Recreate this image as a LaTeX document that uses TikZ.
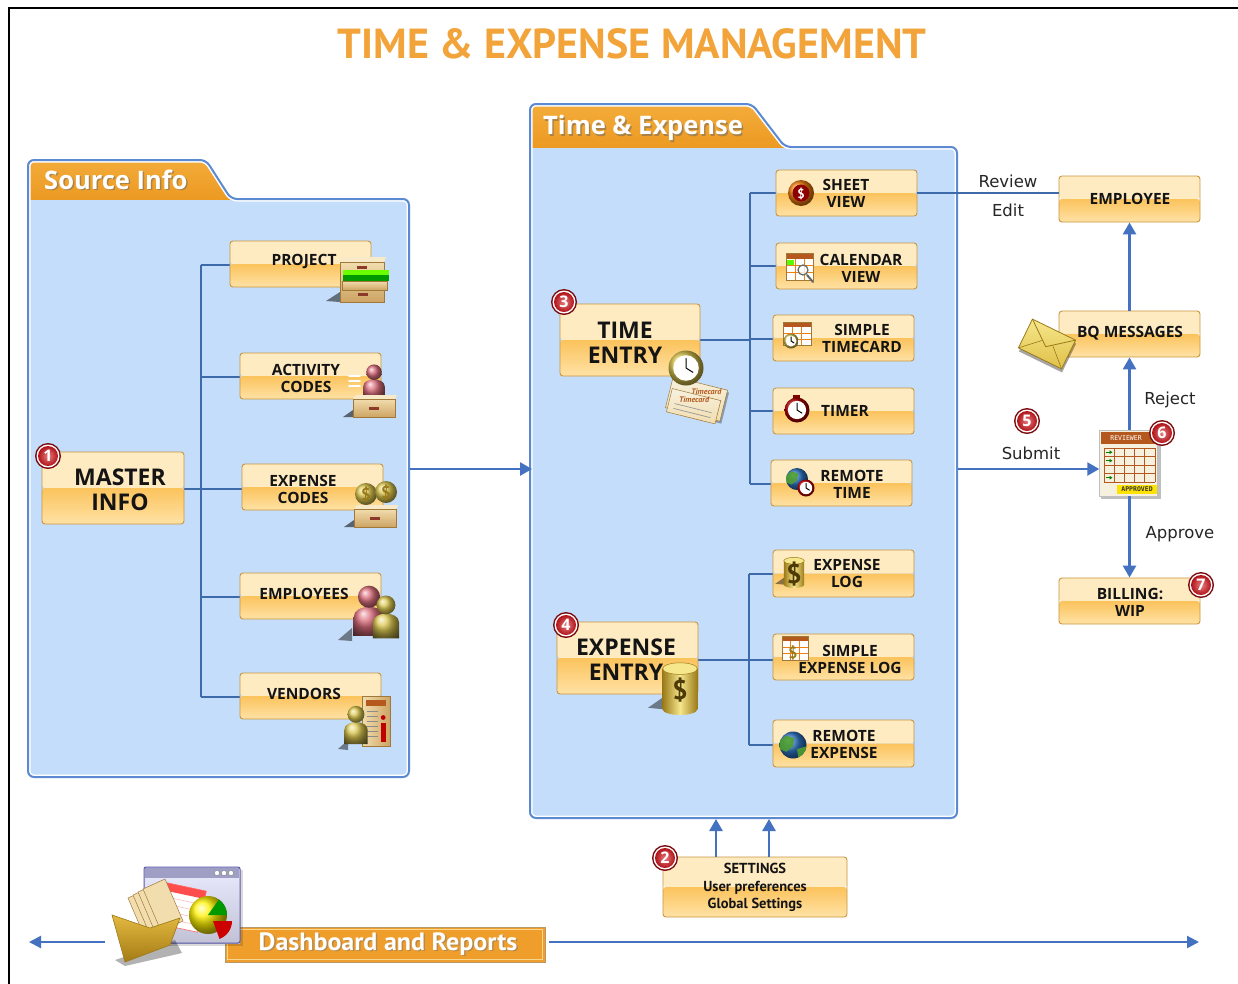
\documentclass[tikz,border=0pt]{standalone}
\usepackage{graphicx}
\usepackage{fontspec}
\setmainfont{PT Sans}
\newfontfamily\boxfont{Open Sans}
\newfontfamily\notefont{DejaVu Sans}
\newfontfamily\tinyfont{DejaVu Sans Mono}
\usetikzlibrary{arrows.meta}

\definecolor{panelfill}{HTML}{C4DDFA}
\definecolor{panelline}{HTML}{5B8AD2}
\definecolor{tabtop}{HTML}{F5B040}
\definecolor{tabbot}{HTML}{EC9A22}
\definecolor{treeline}{HTML}{3D6AA8}
\definecolor{flow}{HTML}{4472C0}
\definecolor{boxedge}{HTML}{C9953F}
\definecolor{boxtop}{HTML}{FFEBC2}
\definecolor{boxmid}{HTML}{FBC35C}
\definecolor{boxbot}{HTML}{FFE2A6}
\definecolor{titleor}{HTML}{F2A43A}
\definecolor{badgered}{HTML}{D0161C}
\definecolor{badgedark}{HTML}{7A0A0C}
\definecolor{pinkc}{HTML}{DC6E7C}
\definecolor{yellc}{HTML}{DCC850}
\definecolor{drawlight}{HTML}{F2DDAE}
\definecolor{drawdark}{HTML}{CDA464}
\definecolor{drawtop}{HTML}{F8EAC8}
\definecolor{drawedge}{HTML}{A07838}
\definecolor{handlec}{HTML}{8E3A2A}
\definecolor{golddark}{HTML}{9A7A18}
\definecolor{goldlight}{HTML}{F6E68C}
\definecolor{golddeep}{HTML}{4E3A06}
\definecolor{globeblue}{HTML}{2F74C4}
\definecolor{globegreen}{HTML}{4E9E30}
\definecolor{cardbrown}{HTML}{B4581E}
\definecolor{cardpaper}{HTML}{F6F1DE}
\definecolor{dashfill}{HTML}{EF9E2C}
\definecolor{dashedge}{HTML}{B89A6A}
\definecolor{dashinner}{HTML}{F7D68E}

\tikzset{
  obox/.style={rounded corners=3pt, draw=boxedge, line width=0.9pt,
    minimum width=141pt, minimum height=46pt, inner sep=0pt,
    path picture={
      \fill[boxtop] (path picture bounding box.north west) rectangle (path picture bounding box.east);
      \shade[top color=boxmid, bottom color=boxbot] (path picture bounding box.west) rectangle (path picture bounding box.south east);
    }},
  bigbox/.style={obox, minimum width=142pt, minimum height=72pt},
  blbl/.style={font=\boxfont\bfseries\fontsize{15.5}{17}\selectfont, align=center, text=black!92, inner sep=0pt},
  biglbl/.style={font=\boxfont\bfseries\fontsize{23}{25}\selectfont, align=center, text=black!92, inner sep=0pt},
  tablbl/.style={font=\boxfont\bfseries\fontsize{25.5}{26}\selectfont, text=white, inner sep=0pt, anchor=base west},
  tabshadow/.style={tablbl, text=black!60, opacity=.5},
  tree/.style={draw=treeline, line width=1.1pt},
  flowarrow/.style={draw=flow, line width=2.6pt, -{Triangle[width=13pt,length=12pt]}},
  note/.style={font=\notefont\fontsize{16.5}{17}\selectfont, text=black!85, inner sep=0pt},
  pics/person/.style={code={
    \shade[ball color=#1] (-9,14) -- (-9,3) .. controls (-9,-5) and (9,-5) .. (9,3) -- (9,14) -- cycle;
    \shade[ball color=#1] (0,-9) circle (6.5);
  }},
  pics/drawer/.style={code={
    \fill[black, opacity=.55] (-31,10) -- (-21,3) -- (-21,10) -- cycle;
    \fill[drawtop] (-21,-8) -- (-18,-12) -- (23,-12) -- (21,-8) -- cycle;
    \shade[top color=drawlight, bottom color=drawdark] (-21,-8) rectangle (21,10);
    \draw[drawedge, line width=.6pt] (-21,-8) rectangle (21,10);
    \fill[handlec] (-5,0) rectangle (5,2.5);
  }},
  pics/dollarcan/.style={code={
    \fill[black, opacity=.45] (-22,15) -- (-12,8) -- (-12,16) -- cycle;
    \shade[left color=golddark, right color=golddark, middle color=goldlight] (-12,-12) rectangle (12,16);
    \shade[left color=golddark, right color=golddark, middle color=goldlight] (0,16) ellipse (12 and 4);
    \fill[goldlight] (0,-12) ellipse (12 and 4);
    \draw[golddark, line width=.5pt] (0,-12) ellipse (12 and 4);
    \node[font=\bfseries\fontsize{27}{27}\selectfont, text=golddeep, inner sep=0pt] (-sign) at (0,3) {\$};
  }},
  pics/globe/.style={code={
    \shade[ball color=globeblue] (0,0) circle (10);
    \begin{scope}
      \clip (0,0) circle (10);
      \fill[globegreen, opacity=.9] (-10,-3) -- (-5,-7) -- (1,-5) -- (0,1) -- (-5,5) -- (-10,3) -- cycle;
      \fill[globegreen, opacity=.9] (3,3) -- (10,1) -- (9,8) -- (4,10) -- cycle;
    \end{scope}
  }},
  pics/clockface/.style={code={
    \shade[ball color=#1] (0,0) circle (10);
    \fill[white] (0,0) circle (7.3);
    \draw[black, line width=1pt, line cap=round] (0,0) -- (0,-5.5) (0,0) -- (4,2.5);
  }},
}

\newcommand{\numbadge}[3]{%
  \node[circle, fill=badgedark, minimum size=26pt, inner sep=0pt] (#1) at (#2) {};
  \fill[white] (#1.center) circle (11.5pt);
  \shade[inner color=badgered!55!white, outer color=badgered!85!black] (#1.center) circle (10pt);
  \node[font=\boxfont\bfseries\fontsize{16}{16}\selectfont, text=white, inner sep=0pt] (#1-num) at (#1.center) {#3};
}

\begin{document}
\begin{tikzpicture}[x=1pt,y=-1pt]
\useasboundingbox (0,0) rectangle (1238,983);
\fill[white] (0,0) rectangle (1238,983);
\draw[black, line width=1.8pt] (9,984) -- (9,8) -- (1239,8);

% ---------- title ----------
\node[font=\bfseries\fontsize{42}{42}\selectfont, text=titleor] (title) at (632,44) {TIME \& EXPENSE MANAGEMENT};

% ---------- Source Info panel ----------
\fill[panelfill, rounded corners=6pt] (28,777) -- (28,160) -- (206,160) -- (231,199) -- (409,199) -- (409,777) -- cycle;
\begin{scope}
  \clip[rounded corners=6pt] (28,777) -- (28,160) -- (206,160) -- (231,199) -- (409,199) -- (409,777) -- cycle;
  \shade[top color=tabtop, bottom color=tabbot] (20,150) rectangle (250,199);
\end{scope}
\draw[white, line width=5pt, rounded corners=6pt] (28,777) -- (28,160) -- (206,160) -- (231,199) -- (409,199) -- (409,777) -- cycle;
\draw[panelline, line width=2pt, rounded corners=6pt] (28,777) -- (28,160) -- (206,160) -- (231,199) -- (409,199) -- (409,777) -- cycle;
\node[tabshadow] (srcTabS) at (45.5,190.5) {Source Info};
\node[tablbl] (srcTab) at (44,189) {Source Info};

% ---------- Time & Expense panel ----------
\fill[panelfill, rounded corners=6pt] (530,818) -- (530,104) -- (752,104) -- (785,147) -- (957,147) -- (957,818) -- cycle;
\begin{scope}
  \clip[rounded corners=6pt] (530,818) -- (530,104) -- (752,104) -- (785,147) -- (957,147) -- (957,818) -- cycle;
  \shade[top color=tabtop, bottom color=tabbot] (520,95) rectangle (800,147);
\end{scope}
\draw[white, line width=5pt, rounded corners=6pt] (530,818) -- (530,104) -- (752,104) -- (785,147) -- (957,147) -- (957,818) -- cycle;
\draw[panelline, line width=2pt, rounded corners=6pt] (530,818) -- (530,104) -- (752,104) -- (785,147) -- (957,147) -- (957,818) -- cycle;
\node[tabshadow] (teTabS) at (544.5,136) {Time \& Expense};
\node[tablbl] (teTab) at (543,134.5) {Time \& Expense};

% ---------- source tree ----------
\coordinate (srcBus) at (201,489);
\draw[tree] (201,265) -- (201,697);
\draw[tree] (184,489) -- (srcBus);
\draw[tree] (201,265) -- (230,265);
\draw[tree] (201,377) -- (240,377);
\draw[tree] (201,489) -- (242,489);
\draw[tree] (201,597) -- (240,597);
\draw[tree] (201,697) -- (240,697);

% ---------- time tree ----------
\draw[tree] (750,193) -- (750,484);
\draw[tree] (700,340) -- (750,340);
\draw[tree] (750,193) -- (776,193);
\draw[tree] (750,266) -- (776,266);
\draw[tree] (750,339) -- (773,339);
\draw[tree] (750,411) -- (773,411);
\draw[tree] (750,484) -- (771,484);

% ---------- expense tree ----------
\draw[tree] (749,574) -- (749,745);
\draw[tree] (698,660) -- (749,660);
\draw[tree] (749,574) -- (773,574);
\draw[tree] (749,660) -- (773,660);
\draw[tree] (749,745) -- (773,745);

% ---------- source boxes ----------
\node[bigbox] (master) at (113,488) {};
\node[biglbl] (masterT) at (120,490) {MASTER\\INFO};
\node[obox] (project) at (300.5,264) {};
\node[blbl] (projectT) at (304,262) {PROJECT};
\node[obox] (activity) at (310.5,376) {};
\node[blbl] (activityT) at (306,378) {ACTIVITY\\CODES};
\node[obox] (expcodes) at (312.5,487) {};
\node[blbl] (expcodesT) at (303,489) {EXPENSE\\CODES};
\node[obox] (employees) at (310.5,596) {};
\node[blbl] (employeesT) at (304,594) {EMPLOYEES};
\node[obox] (vendors) at (310.5,696) {};
\node[blbl] (vendorsT) at (304,694) {VENDORS};

% ---------- time & expense boxes ----------
\node[bigbox, minimum width=140pt] (timeentry) at (630,340) {};
\node[biglbl] (timeentryT) at (625,343) {TIME\\ENTRY};
\node[obox] (sheet) at (846.5,193) {};
\node[blbl] (sheetT) at (846,193.5) {SHEET\\VIEW};
\node[obox] (calendar) at (846.5,266) {};
\node[blbl] (calendarT) at (861,268) {CALENDAR\\VIEW};
\node[obox] (timecard) at (843.5,338) {};
\node[blbl] (timecardT) at (862,338.5) {SIMPLE\\TIMECARD};
\node[obox] (timer) at (843.5,411) {};
\node[blbl] (timerT) at (845,411) {TIMER};
\node[obox] (remotetime) at (841.5,483) {};
\node[blbl] (remotetimeT) at (852,484) {REMOTE\\TIME};
\node[bigbox, minimum width=141pt] (expentry) at (627.5,658) {};
\node[biglbl] (expentryT) at (626,660) {EXPENSE\\ENTRY};
\node[obox, minimum height=47pt] (explog) at (843.5,573.5) {};
\node[blbl] (explogT) at (847,573.5) {EXPENSE\\LOG};
\node[obox] (simpexp) at (843.5,657) {};
\node[blbl] (simpexpT) at (850,659) {SIMPLE\\EXPENSE LOG};
\node[obox, minimum height=47pt] (remoteexp) at (843.5,743.5) {};
\node[blbl] (remoteexpT) at (844,744) {REMOTE\\EXPENSE};

% ---------- right column ----------
\node[obox] (employee) at (1129.5,199) {};
\node[blbl] (employeeT) at (1130,199) {EMPLOYEE};
\node[obox] (bq) at (1129.5,334) {};
\node[blbl] (bqT) at (1130,333.5) {BQ MESSAGES};
\node[obox] (billing) at (1129.5,601) {};
\node[blbl] (billingT) at (1130,602) {BILLING:\\WIP};

% reviewer sheet
\fill[black, opacity=.25] (1101,432) rectangle (1161,499);
\node[fill=cardpaper, draw=black!25, line width=.5pt, minimum width=58pt, minimum height=66pt, inner sep=0pt] (reviewer) at (1128.5,463) {};
\fill[cardbrown] (1101,432) rectangle (1156,444);
\node[font=\tinyfont\fontsize{6.5}{6.5}\selectfont, text=white, inner sep=0pt] (reviewerHead) at (1126,438.5) {REVIEWER};
\foreach \yy in {448,456.5,465,473.5,482} \draw[cardbrown, line width=.8pt] (1104,\yy) -- (1155,\yy);
\foreach \xx in {1104,1114.2,1124.4,1134.6,1144.8,1155} \draw[cardbrown, line width=.8pt] (\xx,448) -- (\xx,482);
\foreach \yy in {452.2,460.7,477.7} \draw[green!50!black, line width=1pt, -{Triangle[width=3.5pt,length=3pt]}] (1105.5,\yy) -- (1112.5,\yy);
\fill[yellow!85!orange] (1117,484.5) rectangle (1157,494);
\node[font=\tinyfont\bfseries\fontsize{6.5}{6.5}\selectfont, text=black!80, inner sep=0pt] (reviewerFoot) at (1137,489.5) {APPROVED};

% settings
\node[obox, minimum width=184pt, minimum height=60pt] (settings) at (755,887) {};
\node[font=\bfseries\fontsize{14.5}{17.5}\selectfont, align=center, text=black!92, inner sep=0pt] (settingsT) at (755,887.5) {SETTINGS\\User preferences\\Global Settings};

% ---------- flows ----------
\coordinate (srcOut) at (410,469);
\coordinate (teIn) at (532,469);
\draw[flowarrow] (srcOut) -- (teIn);
\coordinate (teOut) at (958,469);
\draw[flowarrow] (teOut) -- (teOut -| reviewer.west);
\draw[flowarrow] (reviewer.north -| bq.south) -- (bq.south);
\draw[flowarrow] (bq.north) -- (employee.south);
\draw[flowarrow] (reviewer.south -| billing.north) -- (billing.north);
\draw[tree] (sheet.east) -- (sheet.east -| employee.west);
\coordinate (setA) at (716,857);
\coordinate (setB) at (769,857);
\coordinate (teA) at (716,819);
\coordinate (teB) at (769,819);
\draw[flowarrow] (setA) -- (teA);
\draw[flowarrow] (setB) -- (teB);

\node[note] (reviewL) at (1008,181) {Review};
\node[note] (editL) at (1008,210.5) {Edit};
\node[note] (rejectL) at (1170,399.5) {Reject};
\node[note] (submitL) at (1031,453.5) {Submit};
\node[note] (approveL) at (1180,534) {Approve};

% ---------- dashboard strip ----------
\node[fill=dashfill, draw=dashedge, line width=1pt, minimum width=320pt, minimum height=35pt, inner sep=0pt] (dash) at (385,944.5) {};
\draw[dashinner, line width=1.6pt] (227.5,929.5) rectangle (542.5,959.5);
\node[font=\bfseries\fontsize{25}{25}\selectfont, text=black!55, opacity=.45, inner sep=0pt] (dashTS) at (389.5,945.5) {\scalebox{1.04}[1]{Dashboard and Reports}};
\node[font=\bfseries\fontsize{25}{25}\selectfont, text=white, inner sep=0pt] (dashT) at (388,944) {\scalebox{1.04}[1]{Dashboard and Reports}};
\coordinate (dashLeftStart) at (105,942);
\coordinate (dashLeftEnd) at (29,942);
\coordinate (dashRightStart) at (549,942);
\coordinate (dashRightEnd) at (1199,942);
\draw[draw=flow, line width=2.2pt, -{Triangle[width=12pt,length=12pt]}] (dashLeftStart) -- (dashLeftEnd);
\draw[draw=flow, line width=2.2pt, -{Triangle[width=12pt,length=12pt]}] (dashRightStart) -- (dashRightEnd);

% ---------- icons ----------
% project cabinet
\fill[black, opacity=.5] (326,301) -- (340,292) -- (340,302) -- cycle;
\shade[top color=drawlight, bottom color=drawdark] (340,262) rectangle (384,302);
\fill[drawtop] (340,262) -- (344,257) -- (386,257) -- (384,262) -- cycle;
\draw[drawedge, line width=.6pt] (340,262) rectangle (384,302);
\fill[handlec] (357,266) rectangle (367,269);
\fill[green!60!black] (343,270) rectangle (389,281);
\fill[green!45!lime] (343,270) rectangle (389,275);
\shade[top color=drawlight, bottom color=drawdark] (342,281) rectangle (387,290);
\draw[drawedge, line width=.6pt] (342,281) rectangle (387,290);
\fill[handlec] (358,293) rectangle (368,296);

% activity codes: drawer and person
\pic[scale=1.2] (actPerson) at (374,383) {person=pinkc};
\pic (actDrawer) at (374,407) {drawer};
\foreach \yy in {376,381,386} \draw[white, line width=1.6pt, line cap=round] (349,\yy) -- (360,\yy);

% expense codes: drawer with coins
\shade[ball color=yellc] (366,494) circle (11);
\shade[ball color=yellc] (386,492) circle (11);
\node[font=\bfseries\fontsize{17}{17}\selectfont, text=golddark, inner sep=0pt] (coinA) at (366,495) {\$};
\node[font=\bfseries\fontsize{17}{17}\selectfont, text=golddark, inner sep=0pt] (coinB) at (386,493) {\$};
\pic (expDrawer) at (375,517) {drawer};

% employees
\fill[black, opacity=.45] (338,640) -- (352,628) -- (352,641) -- cycle;
\pic[scale=1.7] (empPink) at (369,612) {person=pinkc};
\pic[scale=1.45] (empYellow) at (386,618) {person=yellc};

% vendors
\shade[left color=drawlight, right color=drawdark] (362,696) rectangle (390,746);
\draw[drawedge, line width=.5pt] (362,696) rectangle (390,746);
\fill[cardbrown] (366,700) rectangle (386,706);
\foreach \yy in {711,716,721,726,731,736} \draw[black!45, line width=.7pt] (367,\yy) -- (378,\yy);
\fill[red!75!black] (381,723) rectangle (385.5,742);
\fill[red!75!black] (383.2,717.5) circle (2.4);
\fill[black, opacity=.45] (338,749) -- (348,740) -- (348,750) -- cycle;
\pic[scale=1.3] (venPerson) at (356,726) {person=yellc};

% time entry: timecards and clock
\begin{scope}[shift={(697,397)}, rotate=-14]
  \fill[black, opacity=.3] (-26,-12) rectangle (30,20);
  \shade[top color=cardpaper, bottom color=drawlight] (-28,-14) rectangle (28,18);
  \draw[drawedge, line width=.5pt] (-28,-14) rectangle (28,18);
  \node[font=\itshape\bfseries\fontsize{8}{8}\selectfont, text=cardbrown, inner sep=0pt] (cardA) at (8,-7) {Timecard};
  \foreach \yy in {2,7,12} \draw[black!40, line width=.7pt] (-22,\yy) -- (20,\yy);
\end{scope}
\begin{scope}[shift={(697,405)}, rotate=-14]
  \shade[top color=cardpaper, bottom color=drawlight] (-28,-10) rectangle (22,14);
  \draw[drawedge, line width=.5pt] (-28,-10) rectangle (22,14);
  \node[font=\itshape\bfseries\fontsize{8}{8}\selectfont, text=cardbrown, inner sep=0pt] (cardB) at (-4,-4) {Timecard};
  \foreach \yy in {4,9} \draw[black!40, line width=.7pt] (-22,\yy) -- (16,\yy);
\end{scope}
\pic[scale=1.75] (entryClock) at (686,368) {clockface=yellc};

% sheet view
\shade[ball color=orange!80!brown] (801,193) circle (13);
\fill[red!55!black] (801,193) circle (8.5);
\node[font=\bfseries\fontsize{13}{13}\selectfont, text=white, inner sep=0pt] (sheetIco) at (801,193.5) {\$};

% calendar view
\fill[white] (786,255) rectangle (813,280);
\fill[cardbrown] (786,253) rectangle (813,259);
\foreach \yy in {265,272} \draw[orange!70!brown, line width=.6pt] (786,\yy) -- (813,\yy);
\foreach \xx in {795,804} \draw[orange!70!brown, line width=.6pt] (\xx,259) -- (\xx,280);
\fill[green!55!lime] (787,260) rectangle (794,264.5);
\draw[drawedge, line width=.6pt] (786,253) rectangle (813,280);
\draw[black!60, line width=2pt, line cap=round] (807,275) -- (813,282);
\fill[white, opacity=.8] (803,270) circle (5);
\draw[black!60, line width=1.2pt] (803,270) circle (5);

% simple timecard
\fill[white] (783,324) rectangle (811,345);
\fill[cardbrown] (783,322) rectangle (811,327);
\foreach \yy in {333,339} \draw[orange!70!brown, line width=.6pt] (783,\yy) -- (811,\yy);
\foreach \xx in {792,801} \draw[orange!70!brown, line width=.6pt] (\xx,327) -- (\xx,345);
\draw[drawedge, line width=.6pt] (783,322) rectangle (811,345);
\pic[scale=.75] (cardClock) at (791,341) {clockface=yellc};

% timer
\fill[red!50!black] (793,395) rectangle (800,399);
\pic[scale=1.25] (timerClock) at (797,410) {clockface=red!70!black};

% remote time
\pic[scale=1.1] (rtGlobe) at (797,479) {globe};
\pic[scale=.85] (rtClock) at (806,488) {clockface=red!80!black};

% expense log, simple expense log, remote expense, expense entry
\pic[scale=.85] (logCan) at (794,571) {dollarcan};
\fill[white] (782,638) rectangle (808,660);
\fill[cardbrown] (782,636) rectangle (808,641);
\foreach \yy in {647,653} \draw[orange!70!brown, line width=.6pt] (782,\yy) -- (808,\yy);
\foreach \xx in {790,799} \draw[orange!70!brown, line width=.6pt] (\xx,641) -- (\xx,660);
\draw[drawedge, line width=.6pt] (782,636) rectangle (808,660);
\node[font=\bfseries\fontsize{16}{16}\selectfont, text=golddark, inner sep=0pt] (simpIco) at (793,653) {\$};
\pic[scale=1.35] (reGlobe) at (793,745) {globe};
\pic[scale=1.45] (entryCan) at (680,686) {dollarcan};

% bq envelope
\begin{scope}[shift={(1047,344)}, rotate=-26]
  \fill[black, opacity=.35] (-22,-13) rectangle (26,19);
  \shade[top color=goldlight, bottom color=yellc!90!orange] (-24,-16) rectangle (24,16);
  \draw[golddark, line width=.8pt] (-24,-16) rectangle (24,16);
  \draw[golddark, line width=.8pt] (-24,-16) -- (0,3) -- (24,-16);
  \draw[golddark, line width=.6pt] (-24,16) -- (-6,-1) (24,16) -- (6,-1);
\end{scope}

% dashboard window with charts and folder
\fill[black, opacity=.15] (146,870) rectangle (243,946);
\shade[top color=blue!8!white, bottom color=blue!20!gray!40] (144,867) rectangle (240,943);
\draw[blue!30!gray, line width=1pt, rounded corners=2pt] (144,867) rectangle (240,943);
\fill[blue!25!gray!60] (145,868) rectangle (239,878);
\foreach \xx in {217,224,231} \draw[gray, fill=white] (\xx,873) circle (2.6);
\begin{scope}[shift={(185,905)}, rotate=-12]
  \fill[white] (-22,-18) rectangle (18,24);
  \fill[red!70!white] (-22,-18) rectangle (18,-10);
  \foreach \yy in {-4,3,10,17} \draw[red!30, line width=.5pt] (-20,\yy) -- (16,\yy);
  \draw[red!60, line width=.6pt] (-22,-18) rectangle (18,24);
\end{scope}
\shade[ball color=yellow!90!orange] (208,915) circle (19);
\fill[green!60!black] (208,915) -- (227,915) arc[start angle=0, end angle=-55, radius=19] -- cycle;
\fill[red!80!black] (213,921) -- (232,921) arc[start angle=0, end angle=70, radius=19] -- cycle;
% folder with papers
\fill[black, opacity=.3] (115,960) -- (175,940) -- (182,953) -- (125,966) -- cycle;
\foreach \dx/\dy in {0/0,5/-3,10/-6,15/-9} {
  \fill[drawlight] (128+\dx,898+\dy) -- (150+\dx,888+\dy) -- (168+\dx,930+\dy) -- (146+\dx,940+\dy) -- cycle;
  \draw[drawedge, line width=.5pt] (128+\dx,898+\dy) -- (150+\dx,888+\dy) -- (168+\dx,930+\dy) -- (146+\dx,940+\dy) -- cycle;
}
\shade[top color=yellc!80!orange, bottom color=golddark!90!orange] (112,915) -- (150,928) -- (180,918) -- (170,945) -- (125,962) -- cycle;
\draw[golddark, line width=.6pt] (112,915) -- (150,928) -- (180,918) -- (170,945) -- (125,962) -- cycle;

% ---------- badges ----------
\numbadge{b1}{48,456}{1}
\numbadge{b2}{665,858}{2}
\numbadge{b3}{564,302}{3}
\numbadge{b4}{566,625}{4}
\numbadge{b5}{1027,421}{5}
\numbadge{b6}{1162,433}{6}
\numbadge{b7}{1201,585}{7}

\end{tikzpicture}
\end{document}
